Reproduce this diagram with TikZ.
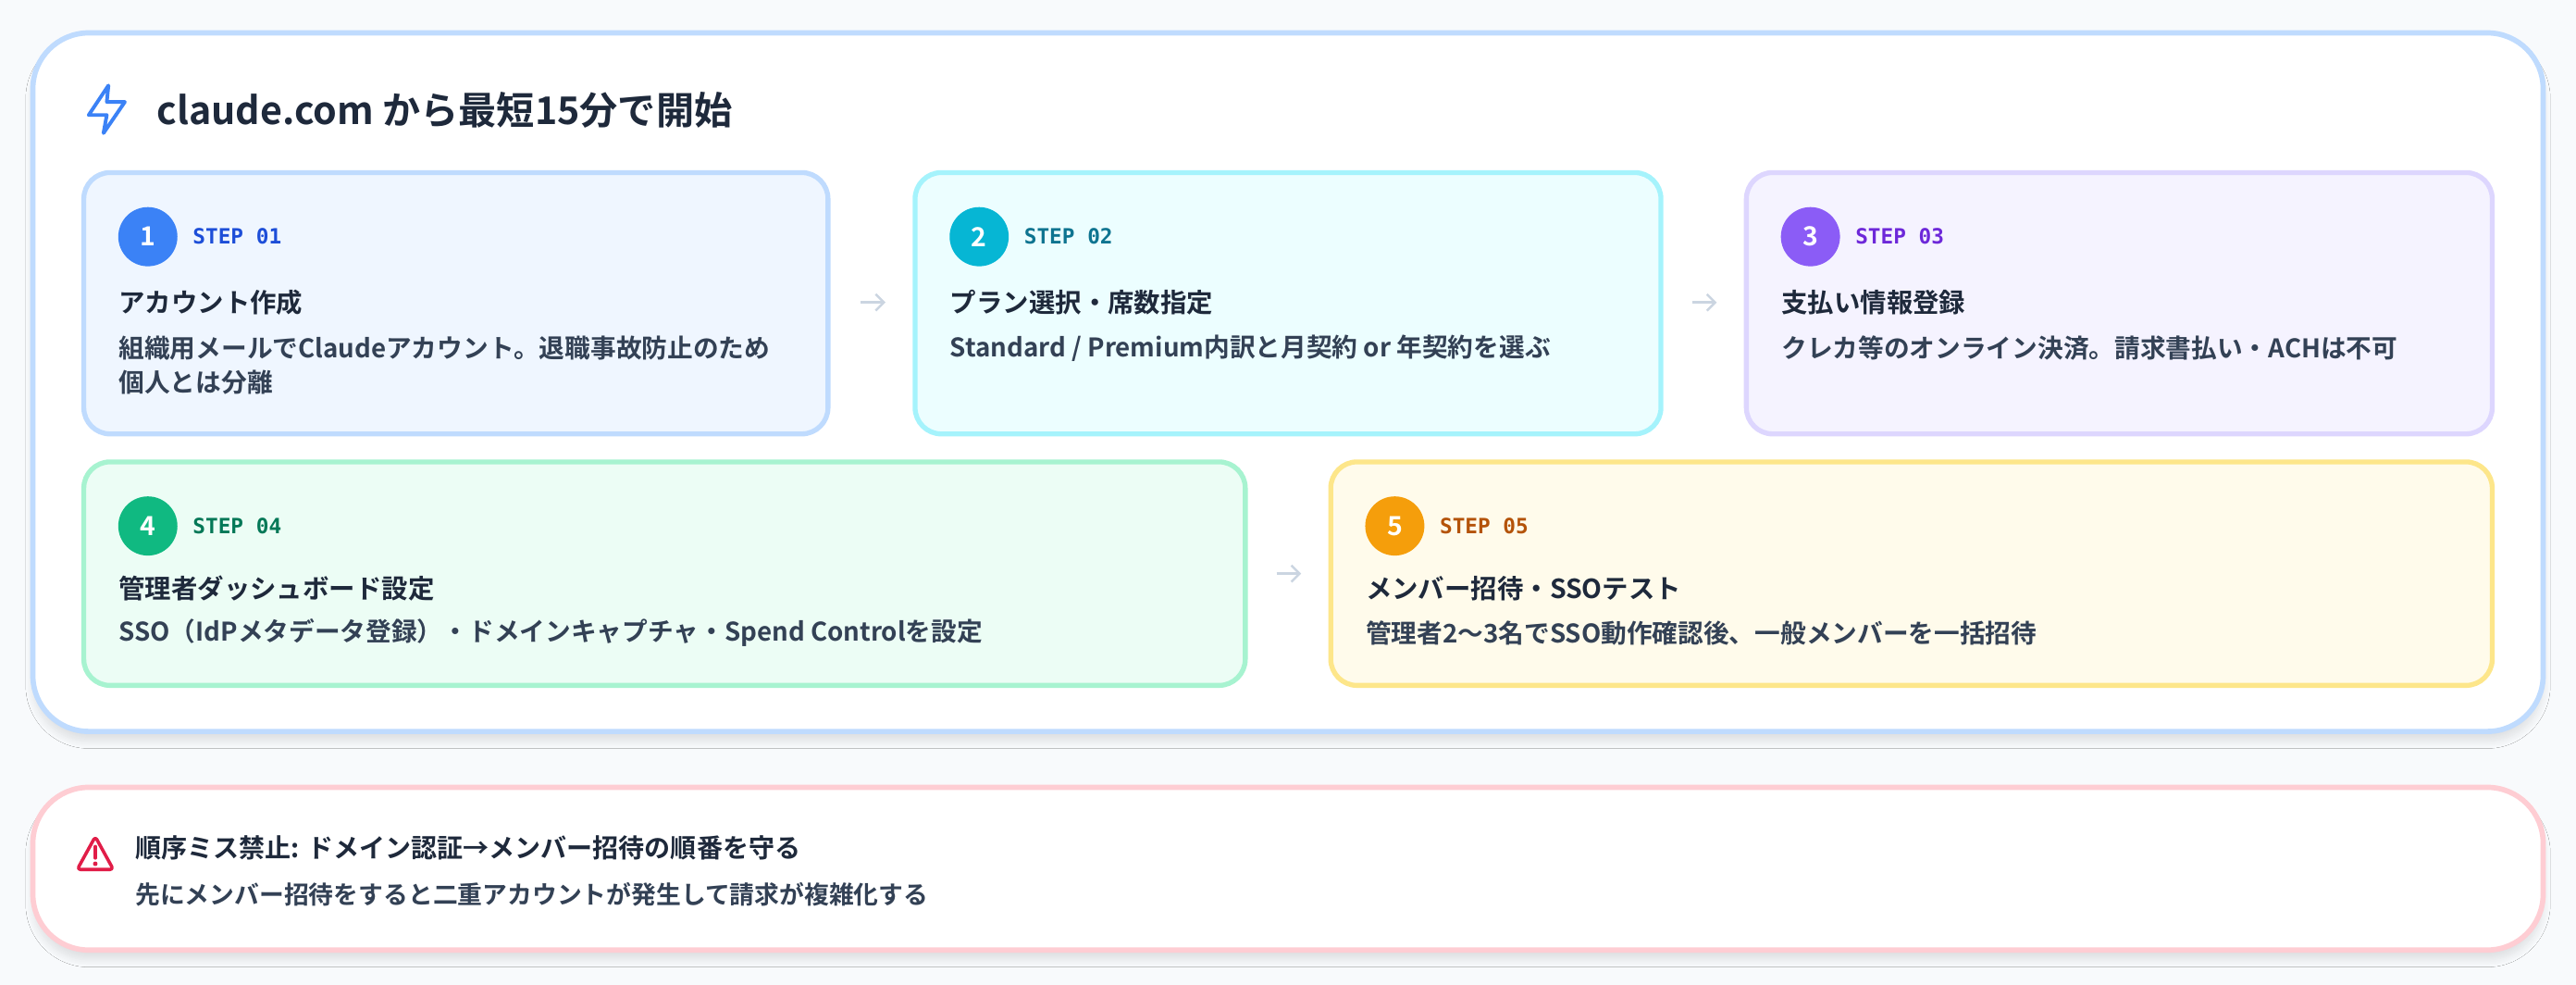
\documentclass[tikz,border=0pt]{standalone}
\usepackage{fontspec}
\setmainfont{Noto Sans CJK JP}[BoldFont={Noto Sans CJK JP Bold}]
\newfontfamily\stepmono{DejaVu Sans Mono}
\usetikzlibrary{shadows.blur,arrows.meta}
\definecolor{bg}{HTML}{F8FAFC}
\definecolor{ink}{HTML}{1E293B}
\definecolor{sub}{HTML}{334155}
\definecolor{outerb}{HTML}{BFDBFE}
\definecolor{fa}{HTML}{EFF6FF}\definecolor{ba}{HTML}{BFDBFE}\definecolor{ca}{HTML}{3B82F6}\definecolor{la}{HTML}{1D4ED8}
\definecolor{fb}{HTML}{ECFEFF}\definecolor{bb}{HTML}{A5F3FC}\definecolor{cb}{HTML}{06B6D4}\definecolor{lb}{HTML}{0E7490}
\definecolor{fc}{HTML}{F5F3FF}\definecolor{bc}{HTML}{DDD6FE}\definecolor{cc}{HTML}{8B5CF6}\definecolor{lc}{HTML}{6D28D9}
\definecolor{fd}{HTML}{ECFDF5}\definecolor{bd}{HTML}{A7F3D0}\definecolor{cd}{HTML}{10B981}\definecolor{ld}{HTML}{047857}
\definecolor{fe}{HTML}{FFFBEB}\definecolor{be}{HTML}{FDE68A}\definecolor{ce}{HTML}{F59E0B}\definecolor{le}{HTML}{B45309}
\definecolor{warnb}{HTML}{FECDD3}\definecolor{warn}{HTML}{E11D48}
\definecolor{arr}{HTML}{CBD5E1}
\begin{document}
\begin{tikzpicture}[x=0.5pt,y=-0.5pt,
  card/.style={draw=outerb,line width=1.6pt,fill=white,rounded corners=17pt,blur shadow={shadow blur steps=8,shadow xshift=0pt,shadow yshift=-3pt,shadow opacity=10}},
  stepbox/.style={line width=1.5pt,rounded corners=8pt},
  num/.style={circle,minimum size=18pt,inner sep=0pt,text=white,font=\bfseries\fontsize{8}{8}\selectfont},
  lab/.style={anchor=west,inner sep=0pt,font=\stepmono\bfseries\fontsize{6.4}{6.4}\selectfont},
  ttl/.style={anchor=west,inner sep=0pt,text=ink,font=\bfseries\fontsize{8}{9}\selectfont},
  dsc/.style={anchor=west,inner sep=0pt,text=sub,align=left,font=\bfseries\fontsize{7.8}{10.5}\selectfont},
  flow/.style={arr,line width=0.7pt,-{Straight Barb[length=2.5pt,width=5pt]}}]
\fill[bg] (0,0) rectangle (1568,599);
\path[use as bounding box] (0,0) rectangle (1568,599);
\draw[card] (20,20) rectangle (1548,445);
% icon
\draw[ca,line width=1.1pt,line join=round] (66,52) -- (54,70) -- (65,70) -- (63,81) -- (76,62) -- (65,62) -- cycle;
\node[anchor=west,inner sep=0pt,text=ink,font=\bfseries\fontsize{11.6}{11.6}\selectfont] (title) at (95,67) {claude.com から最短15分で開始};
% boxes
\draw[stepbox,draw=ba,fill=fa] (51,105) rectangle (504,264);
\draw[stepbox,draw=bb,fill=fb] (557,105) rectangle (1011,264);
\draw[stepbox,draw=bc,fill=fc] (1063,105) rectangle (1517,264);
\draw[stepbox,draw=bd,fill=fd] (51,281) rectangle (758,417);
\draw[stepbox,draw=be,fill=fe] (810,281) rectangle (1517,417);
% step 1
\node[num,fill=ca] (n1) at (90,144) {1};
\node[lab,text=la] (l1) at (117,144) {STEP 01};
\node[ttl] (t1) at (72,184) {アカウント作成};
\node[dsc,anchor=north west] (d1) at (72,204) {組織用メールでClaudeアカウント。退職事故防止のため\\個人とは分離};
% step 2
\node[num,fill=cb] (n2) at (596,144) {2};
\node[lab,text=lb] (l2) at (623,144) {STEP 02};
\node[ttl] (t2) at (578,184) {プラン選択・席数指定};
\node[dsc] (d2) at (578,212) {Standard / Premium内訳と月契約 or 年契約を選ぶ};
% step 3
\node[num,fill=cc] (n3) at (1102,144) {3};
\node[lab,text=lc] (l3) at (1129,144) {STEP 03};
\node[ttl] (t3) at (1084,184) {支払い情報登録};
\node[dsc] (d3) at (1084,212) {クレカ等のオンライン決済。請求書払い・ACHは不可};
% step 4
\node[num,fill=cd] (n4) at (90,320) {4};
\node[lab,text=ld] (l4) at (117,320) {STEP 04};
\node[ttl] (t4) at (72,358) {管理者ダッシュボード設定};
\node[dsc] (d4) at (72,385) {SSO（IdPメタデータ登録）・ドメインキャプチャ・Spend Controlを設定};
% step 5
\node[num,fill=ce] (n5) at (849,320) {5};
\node[lab,text=le] (l5) at (876,320) {STEP 05};
\node[ttl] (t5) at (831,358) {メンバー招待・SSOテスト};
\node[dsc] (d5) at (831,385) {管理者2〜3名でSSO動作確認後、一般メンバーを一括招待};
% arrows
\coordinate (a1s) at (524,184); \coordinate (a1e) at (539,184);
\coordinate (a2s) at (1030,184); \coordinate (a2e) at (1045,184);
\coordinate (a3s) at (777,349); \coordinate (a3e) at (792,349);
\draw[flow] (a1s) -- (a1e);
\draw[flow] (a2s) -- (a2e);
\draw[flow] (a3s) -- (a3e);
% warning
\draw[card,draw=warnb] (20,479) rectangle (1548,578);
\draw[warn,line width=1pt,line join=round,rounded corners=1pt] (58,509) -- (69,529) -- (47,529) -- cycle;
\draw[warn,line width=1pt,line cap=round] (58,515) -- (58,522);
\fill[warn] (58,525.5) circle (0.7pt);
\node[anchor=west,inner sep=0pt,text=ink,font=\bfseries\fontsize{7.9}{9}\selectfont] (w1) at (82,516) {順序ミス禁止: ドメイン認証→メンバー招待の順番を守る};
\node[anchor=west,inner sep=0pt,text=sub,font=\bfseries\fontsize{7.55}{9}\selectfont] (w2) at (82,544) {先にメンバー招待をすると二重アカウントが発生して請求が複雑化する};
\end{tikzpicture}
\end{document}
